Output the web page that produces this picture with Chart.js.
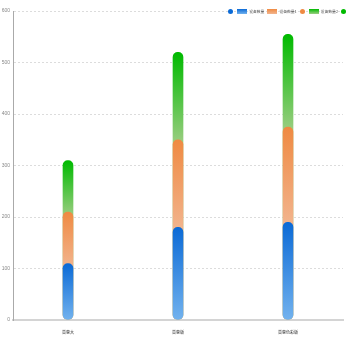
<!DOCTYPE html>
<html>
<head>
<meta charset="utf-8">
<script src="https://cdn.jsdelivr.net/npm/chart.js@4.4.1/dist/chart.umd.min.js"></script>
<style>
    html, body { margin: 0; padding: 0; background: #fff; }
    #wrap { position: relative; width: 350px; height: 350px; }
    #legend {
        position: absolute; top: 9px; right: 2px;
        display: flex; align-items: center;
        font: 3.8px "Noto Sans CJK SC", sans-serif; color: #555;
    }
    #legend .dot { width: 5px; height: 5px; border-radius: 50%; margin: 0 2px; }
    #legend .box { width: 10px; height: 5px; margin: 0 2px 0 2px; }
    #legend .txt { margin-right: 1px; }
</style>
</head>
<body>
<div id="wrap">
    <canvas id="deviceChart" width="350" height="350"></canvas>
    <div id="legend"></div>
</div>
<script>
const categories = ['普惠大', '普惠版', '普惠色彩版'];
const seriesNames = ['设备数量', '设备数量1', '设备数量2'];
const countA = [100, 170, 180];
const countB = [100, 170, 185];
const countC = [100, 170, 180];
const yTicks = [0, 100, 200, 300, 400, 500, 600];

// [bottom, top] colours for each series
const palette = [
    ['#72b2ee', '#0b6ad6'],
    ['#f2b58f', '#ef8a42'],
    ['#9dce83', '#00ba00']
];

const layers = [countA, countB, countC];
const stackTops = layers.map((_, i) =>
    categories.map((_, j) => layers.slice(0, i + 1).reduce((s, arr) => s + arr[j], 0))
);
const stackBases = layers.map((_, i) =>
    categories.map((_, j) => layers.slice(0, i).reduce((s, arr) => s + arr[j], 0))
);

function segmentFill(layer) {
    return (ctx) => {
        const chart = ctx.chart;
        const y = chart.scales.y;
        if (!chart.chartArea || !y || ctx.dataIndex === undefined) return palette[layer][1];
        const lo = y.getPixelForValue(stackBases[layer][ctx.dataIndex]);
        const hi = y.getPixelForValue(stackTops[layer][ctx.dataIndex]) - 5;
        const g = chart.ctx.createLinearGradient(0, lo, 0, hi);
        g.addColorStop(0, palette[layer][0]);
        g.addColorStop(1, palette[layer][1]);
        return g;
    };
}

// rounded caps sit half a bar width above the value, like a circle centred on it
const capOverhang = {
    id: 'capOverhang',
    afterDatasetsUpdate(chart) {
        chart.data.datasets.forEach((_, i) => {
            chart.getDatasetMeta(i).data.forEach(bar => {
                bar.y -= bar.width / 2;
            });
        });
    }
};

const legendEl = document.getElementById('legend');
const legendParts = [
    ['dot', 0], ['box', 0, seriesNames[0]], ['box', 1, seriesNames[1]],
    ['dot', 1], ['box', 2, seriesNames[2]], ['dot', 2]
];
legendParts.forEach(([kind, idx, label]) => {
    const sw = document.createElement('span');
    sw.className = kind;
    sw.style.background = kind === 'dot'
        ? palette[idx][1]
        : `linear-gradient(to bottom, ${palette[idx][1]}, ${palette[idx][0]})`;
    legendEl.appendChild(sw);
    if (label) {
        const t = document.createElement('span');
        t.className = 'txt';
        t.textContent = label;
        legendEl.appendChild(t);
    }
});

new Chart(document.getElementById('deviceChart'), {
    type: 'bar',
    data: {
        labels: categories,
        datasets: seriesNames.map((name, i) => ({
            label: name,
            data: stackTops[i],
            backgroundColor: segmentFill(i),
            barThickness: 10,
            borderRadius: 5,
            borderSkipped: false,
            grouped: false
        }))
    },
    plugins: [capOverhang],
    options: {
        responsive: false,
        animation: false,
        layout: { padding: { top: 11, right: 7, bottom: 0, left: 0 } },
        plugins: {
            legend: { display: false },
            tooltip: { enabled: false }
        },
        scales: {
            x: {
                grid: { display: false },
                border: { display: true, color: '#d4d4d4', width: 2 },
                ticks: {
                    padding: 2,
                    color: '#333',
                    font: { size: 4, family: '"Noto Sans CJK SC", sans-serif' }
                },
                afterFit(scale) { scale.height = 30; }
            },
            y: {
                min: 0,
                max: 600,
                afterBuildTicks(scale) { scale.ticks = yTicks.map(v => ({ value: v })); },
                grid: {
                    color: '#dcdcdc',
                    drawTicks: false,
                    lineWidth: 1
                },
                border: { display: true, color: '#aaaaaa', width: 1, dash: [2, 2] },
                ticks: {
                    padding: 3,
                    color: '#888',
                    font: { size: 5, family: '"Liberation Sans", sans-serif' }
                },
                afterFit(scale) { scale.width = 13; }
            }
        }
    }
});
</script>
</body>
</html>
